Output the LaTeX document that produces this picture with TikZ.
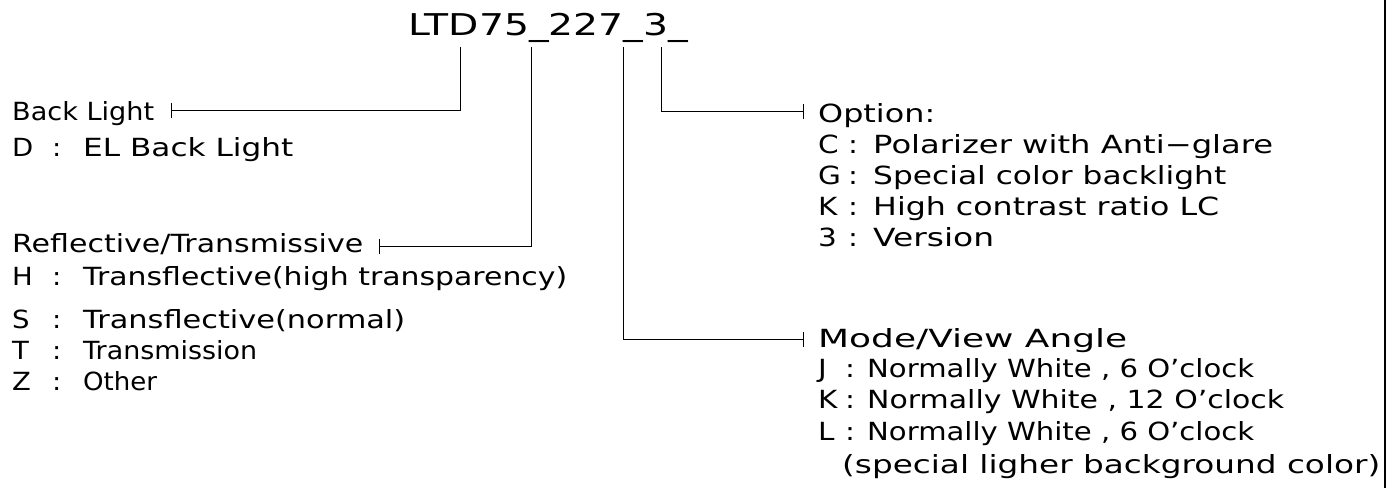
\documentclass[tikz,border=0pt]{standalone}
\usepackage{fontspec}
\usepackage{graphicx}
\setmainfont{DejaVu Sans}
\newcommand\fitw[2]{\resizebox{#1pt}{\height}{#2}}
\newcommand\keyL[1]{\makebox[40pt][l]{\scalebox{1.1}[1]{#1}}\makebox[31pt][l]{\scalebox{1.1}[1]{:}}}
\newcommand\keyO[1]{\makebox[30pt][l]{\scalebox{1.18}[1]{#1}}\makebox[25pt][l]{\scalebox{1.18}[1]{:}}}
\newcommand\keyM[1]{\makebox[27pt][l]{\scalebox{1.18}[1]{#1}}\makebox[22pt][l]{\scalebox{1.18}[1]{:}}}
\tikzset{
  lbl/.style={anchor=base west, inner sep=0pt, font=\fontsize{25}{30}\selectfont},
  ttl/.style={anchor=base west, inner sep=0pt, font=\fontsize{30}{36}\selectfont},
  wire/.style={line width=0.9pt},
  frame/.style={line width=1.8pt},
}
\begin{document}
\begin{tikzpicture}[x=1pt,y=-1pt]
\useasboundingbox (0,0) rectangle (1399,488);
% title
\node[ttl] (title) at (408,35) {\fitw{280}{LTD75\_227\_3\_}};
\coordinate (tA) at (460,47);
\coordinate (tB) at (531.7,47);
\coordinate (tC) at (623,47);
\coordinate (tD) at (661,47);
% left column
\node[lbl] (bl) at (12,120) {\fitw{142}{Back Light}};
\node[lbl] (bl1) at (12,156) {\keyL{D}\fitw{210}{EL Back Light}};
\node[lbl] (rt) at (12,252) {\fitw{351}{Reflective/Transmissive}};
\node[lbl] (rt1) at (12,285) {\keyL{H}\fitw{484}{Transflective(high transparency)}};
\node[lbl] (rt2) at (12,328) {\keyL{S}\fitw{322}{Transflective(normal)}};
\node[lbl] (rt3) at (12,359) {\keyL{T}\fitw{174}{Transmission}};
\node[lbl] (rt4) at (12,390) {\keyL{Z}\fitw{74}{Other}};
% right column
\node[lbl] (op) at (818,122) {\fitw{117}{Option:}};
\node[lbl] (op1) at (818,153) {\keyO{C}\fitw{400}{Polarizer with Anti−glare}};
\node[lbl] (op2) at (818,184) {\keyO{G}\fitw{353}{Special color backlight}};
\node[lbl] (op3) at (818,215) {\keyO{K}\fitw{346}{High contrast ratio LC}};
\node[lbl] (op4) at (818,246) {\keyO{3}\fitw{121}{Version}};
\node[lbl] (md) at (818,347) {\fitw{309}{Mode/View Angle}};
\node[lbl] (md1) at (818,377) {\keyM{J}\fitw{387}{Normally White , 6 O’clock}};
\node[lbl] (md2) at (818,408) {\keyM{K}\fitw{417}{Normally White , 12 O’clock}};
\node[lbl] (md3) at (818,440) {\keyM{L}\fitw{387}{Normally White , 6 O’clock}};
\node[lbl] (md4) at (842,473) {\fitw{538}{(special ligher background color)}};
% tick ends
\coordinate (eA) at (171,110.7);
\coordinate (eB) at (379,246.7);
\coordinate (eC) at (803,339);
\coordinate (eD) at (803,111.5);
% connectors
\draw[wire] (tA) |- (eA);
\draw[wire] (tB) |- (eB);
\draw[wire] (tC) |- (eC);
\draw[wire] (tD) |- (eD);
\foreach \e in {eA,eB,eC,eD}
  \draw[wire] ([yshift=7.5pt]\e) -- ([yshift=-7.5pt]\e);
% frame line
\draw[frame] (1385,0) -- (1385,488);
\end{tikzpicture}
\end{document}
